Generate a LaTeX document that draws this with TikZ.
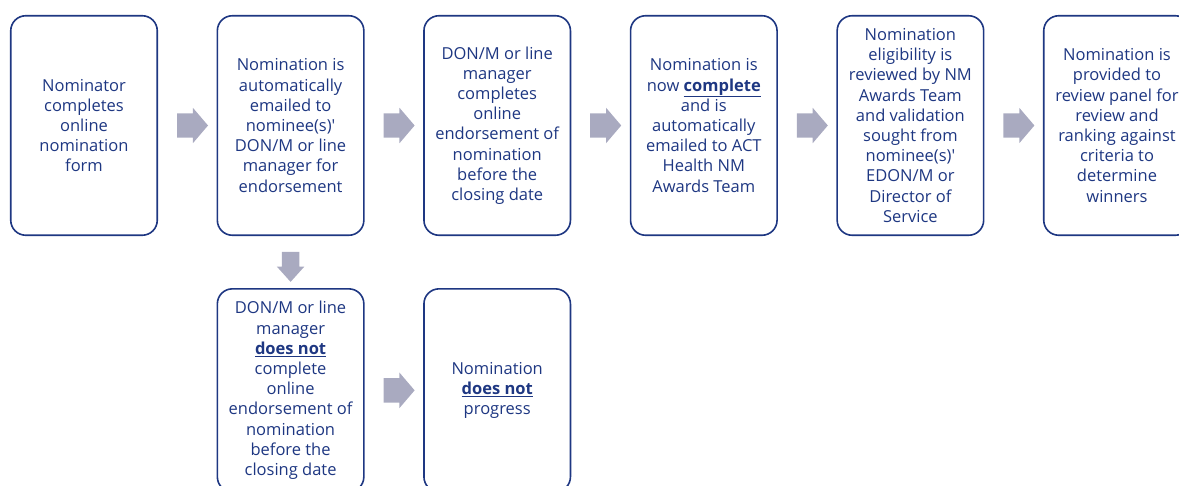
\documentclass[tikz,border=0pt]{standalone}
\usepackage{fontspec}
\setmainfont{Open Sans}
\usepackage{xcolor}
\usetikzlibrary{positioning, shapes.arrows}
\definecolor{navy}{RGB}{30,55,130}
\definecolor{arrowgrey}{RGB}{169,170,192}

\begin{document}
\begin{tikzpicture}[
        x=1pt, y=1pt,
        node distance=52pt and 58.5pt,
        stage node/.style={rectangle, rounded corners=15pt, draw=navy, line width=1.6pt, fill=white,
          minimum width=146.5pt, minimum height=219.5pt, align=center, text=navy, inner sep=2pt,
          font=\fontsize{16.5}{20.2}\selectfont},
        short node/.style={stage node, minimum height=203pt},
        arrow node/.style={single arrow, fill=arrowgrey, draw=none, inner xsep=0pt, inner ysep=12pt,
          single arrow head extend=5.5pt, minimum width=35pt, minimum height=31pt,
          single arrow tip angle=99},
        down node/.style={arrow node, inner ysep=8.5pt, single arrow head extend=5pt,
          minimum width=27pt, minimum height=30pt, single arrow tip angle=84, rotate=-90}
      ]
      \clip (0,0) rectangle (1179,-486);
      % Nodes
      \node[stage node] (S1) at (84,-125.5) {Nominator\\completes\\online\\nomination\\form};
      \node[stage node, right=of S1] (S2) {Nomination is\\automatically\\emailed to\\nominee(s)\textquotesingle\\DON/M or line\\manager for\\endorsement};
      \node[stage node, right=of S2] (S3) {DON/M or line\\manager\\completes\\online\\endorsement of\\nomination\\before the\\closing date};
      \node[stage node, right=of S3] (S4) {Nomination is\\now \underline{\textbf{complete}}\\and is\\automatically\\emailed to ACT\\Health NM\\Awards Team};
      \node[stage node, right=of S4] (S5) {Nomination\\eligibility is\\reviewed by NM\\Awards Team\\and validation\\sought from\\nominee(s)\textquotesingle\\EDON/M or\\Director of\\Service};
      \node[stage node, right=of S5] (S6) {Nomination is\\provided to\\review panel for\\review and\\ranking against\\criteria to\\determine\\winners};
      \node[short node, below=of S2] (S7) {DON/M or line\\manager\\\underline{\textbf{does not}}\\complete\\online\\endorsement of\\nomination\\before the\\closing date};
      \node[short node, right=of S7] (S8) {Nomination\\\underline{\textbf{does not}}\\progress};

      % Block arrows between the stages
      \path (S1.east) -- (S2.west) node[midway, arrow node] (A12) {};
      \path (S2.east) -- (S3.west) node[midway, arrow node] (A23) {};
      \path (S3.east) -- (S4.west) node[midway, arrow node] (A34) {};
      \path (S4.east) -- (S5.west) node[midway, arrow node] (A45) {};
      \path (S5.east) -- (S6.west) node[midway, arrow node] (A56) {};
      \path (S2.south) -- (S7.north) node[midway, down node] (A27) {};
      \path (S7.east) -- (S8.west) node[midway, arrow node] (A78) {};
    \end{tikzpicture}
\end{document}
